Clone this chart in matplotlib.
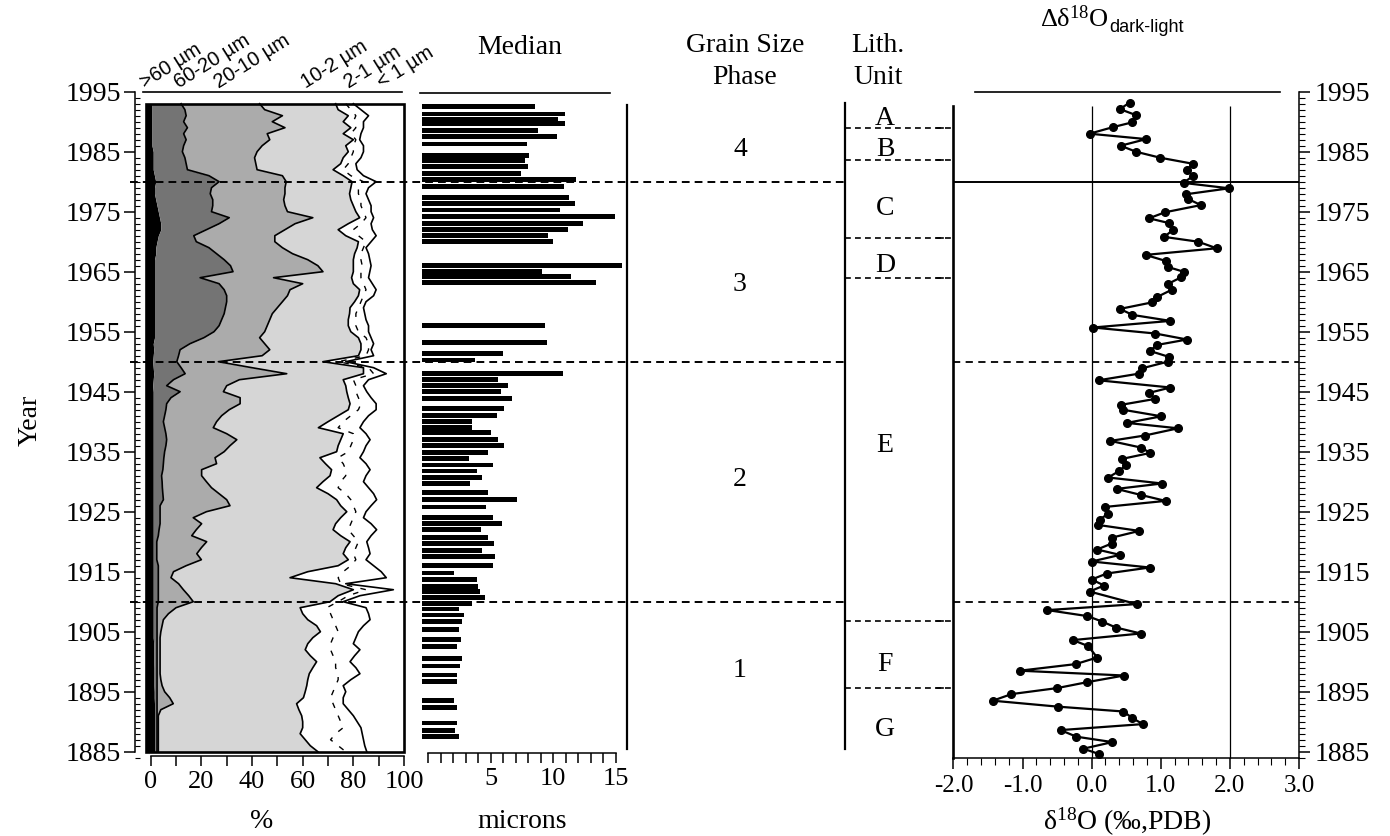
import numpy as np
import matplotlib
matplotlib.use("Agg")
import matplotlib.pyplot as plt
from matplotlib.lines import Line2D
from matplotlib.patches import Rectangle
from matplotlib.ticker import FixedLocator, MultipleLocator, FuncFormatter
from matplotlib.transforms import blended_transform_factory

plt.rcParams['font.family'] = ['Liberation Serif', 'DejaVu Serif']
plt.rcParams['mathtext.fontset'] = 'custom'
plt.rcParams['mathtext.rm'] = 'Liberation Serif'
plt.rcParams['mathtext.it'] = 'Liberation Serif:italic'
plt.rcParams['axes.linewidth'] = 1.1

# ---------------- data ----------------
# grain size classes, cumulative % at the upper edge of each class, 1993 -> 1885
gs_classes = ['>60 µm', '60-20 µm', '20-10 µm', '10-2 µm', '2-1 µm', '< 1 µm']
gs_year = list(range(1993, 1884, -1))
edge_gt60 = [0.5, 0.5, 0.5, 0.5, 0.5, 0.5, 0.5, 0.5, 1.0, 1.0,
             1.0, 1.0, 1.5, 2.0, 1.5, 1.5, 2.0, 2.5, 3.0, 3.5,
             4.0, 4.0, 3.0, 2.5, 2.0, 2.0, 1.5, 1.5, 1.5, 1.5,
             1.5, 1.5, 1.5, 1.5, 1.5, 1.5, 1.5, 1.5, 1.5, 1.5,
             1.0, 1.2, 1.0, 0.8, 1.0, 1.2, 1.0, 0.8, 1.0, 1.0,
             1.0, 1.0, 1.0, 1.0, 1.0, 1.0, 1.0, 1.0, 1.0, 1.0,
             1.0, 1.0, 1.0, 1.0, 1.0, 1.0, 1.0, 1.0, 1.0, 1.0,
             1.0, 1.0, 1.0, 1.0, 1.0, 1.0, 1.0, 1.0, 1.0, 1.0,
             1.0, 1.0, 1.0, 1.0, 1.0, 1.0, 1.0, 1.0, 1.0, 1.0,
             1.2, 1.2, 1.2, 1.2, 1.3, 1.3, 1.3, 1.3, 1.4, 1.4,
             1.5, 1.5, 1.5, 1.5, 1.5, 1.5, 1.5, 1.5, 1.5]
edge_60_20 = [12, 13.5, 14, 13, 14.5, 13, 14, 13, 12.5, 13.5,
              14, 14.5, 23, 27, 24, 23.5, 24.5, 24.5, 24, 31,
              27, 22, 17, 18, 23, 26, 29, 31.5, 32.5, 19.5,
              27, 29, 30, 30, 29.5, 29, 28, 27, 25, 21,
              15.5, 11.6, 11, 10.3, 12, 13.6, 9, 6.3, 11.6, 8,
              6.3, 6, 5.5, 5, 5.5, 6, 6.3, 6, 5.5, 5.2,
              5, 4.8, 4.3, 4.5, 4.6, 4.8, 5, 3.7, 3.7, 3.7,
              3.7, 3.3, 3, 2.4, 2.4, 2.4, 2.4, 3, 3, 3,
              3, 3, 3, 3, 2.5, 2.5, 2.5, 2.5, 2.5, 2.5,
              2.5, 2.5, 2.5, 2.5, 2.5, 2.5, 2.5, 2.5, 2.5, 2.5,
              2.5, 2.5, 2.5, 2.5, 2.5, 2.5, 2.5, 2.5, 2.5]
edge_20_10 = [43, 45, 52, 48, 53, 46, 47, 44, 42, 41,
              41.5, 42, 52, 53.5, 53, 53, 52.5, 53, 54, 64,
              57, 53, 49, 49, 52, 56, 62, 66, 68, 48.5,
              60, 55, 54, 52, 50, 48, 47, 46, 45, 43,
              45, 47, 44, 26.7, 40, 53.7, 35, 30, 28.7, 35.3,
              35.3, 31, 28, 26, 24.7, 30, 34, 31.3, 29, 25.4,
              26, 20.1, 20.1, 22, 24, 27, 30, 31.3, 22, 16.8,
              20.1, 18, 16.2, 22.1, 20, 18.2, 20, 14, 9, 8,
              11, 12.9, 15, 16.8, 10, 7, 5, 4.5, 4, 3.7,
              3.7, 3.7, 3.7, 3.7, 3.7, 3.7, 4, 4.5, 5.5, 7.5,
              8.9, 4, 3, 3, 3, 3, 3, 3, 3]
edge_10_2 = [73, 74, 78, 76, 79, 76, 80, 77, 78, 76,
             75, 72, 76, 79.5, 79, 78.5, 79, 80, 81, 82.5,
             78, 74, 77, 82, 81.5, 80.5, 80, 80, 80, 79.3,
             80, 82.5, 82, 80.5, 78.7, 78.5, 78, 78, 79, 82,
             83, 83, 82, 68, 84, 84, 76, 77, 77.4, 78,
             78.7, 78, 74, 70, 66.2, 76, 75, 74, 73.4, 66.8,
             69, 71.4, 70.8, 68, 65.5, 70, 73.4, 75, 77.4, 75,
             73, 72, 75, 78.7, 77, 76, 78, 74, 62, 55,
             73, 80, 74, 70.8, 59, 60, 62, 65.5, 67, 64,
             62, 61, 63, 65.5, 64, 62.6, 62, 61.6, 61, 60.3,
             57.6, 58.5, 59.6, 60, 60, 59, 61, 63, 66]
edge_2_1 = [77, 79, 81, 80, 81, 79, 81, 80, 80, 79,
            78, 76, 79, 84, 82, 82, 83, 83, 84, 85,
            83, 80, 82, 85, 84, 83, 83, 83.5, 83, 83,
            84, 85, 84, 83, 82, 81, 81, 81, 82, 85,
            86, 86, 85, 74, 86, 88, 80, 81, 81, 82,
            83, 82, 79, 76, 74, 80, 80, 79, 78, 74,
            76, 77, 77, 75, 74, 77, 79, 80, 81, 80,
            79, 78, 80, 82, 81, 80, 81, 79, 76, 74,
            75, 85, 78, 74, 69.5, 71, 72, 73, 74, 72,
            71, 71, 72, 73, 73, 74, 74, 73, 72, 71,
            72, 73, 74, 75, 76, 73, 71, 74, 77]
edge_lt1 = [80, 83, 86, 84, 84, 83, 82.5, 84, 84, 83,
            81, 81.5, 84, 89, 86, 85, 86, 87, 87, 88,
            87, 87.5, 89, 87, 85, 86, 86.5, 87, 86.5, 86,
            87.5, 89, 88, 85, 84, 84.5, 85, 86, 86, 87,
            88, 87, 88, 77, 88, 93, 86, 84, 85.3, 87,
            89, 89, 86, 84, 82.6, 85, 86.6, 85, 84, 82.6,
            85, 86.6, 85, 84, 86, 88, 89.2, 87, 85, 84,
            87, 89.2, 87, 85.3, 86, 86.6, 85, 88, 91, 93,
            77, 95.8, 82.6, 76, 85, 86, 86.6, 84, 82, 81,
            80, 82.6, 80.5, 78.7, 81, 82.6, 79, 76, 77, 76,
            76, 78, 80, 81.5, 83, 83.5, 84, 84.5, 85.3]

# median grain size (microns)
med_year = [1992.6, 1991.3, 1990.4, 1989.7, 1988.5, 1987.5, 1986.3, 1984.4, 1983.5, 1982.5,
            1981.4, 1980.4, 1979.2, 1977.4, 1976.4, 1975.3, 1974.2, 1973.1, 1972.1, 1971.0,
            1970.0, 1966.1, 1965.1, 1964.2, 1963.2, 1956.1, 1953.2, 1951.4, 1950.3, 1948.1,
            1947.0, 1946.0, 1945.0, 1943.9, 1942.2, 1941.1, 1940.0, 1939.0, 1938.2, 1937.1,
            1936.0, 1934.9, 1933.9, 1932.8, 1931.8, 1930.7, 1929.7, 1928.2, 1927.1, 1925.8,
            1924.1, 1923.0, 1922.0, 1920.7, 1919.7, 1918.6, 1917.6, 1916.0, 1914.8, 1913.7,
            1912.6, 1911.7, 1910.7, 1909.7, 1908.8, 1907.8, 1906.7, 1905.4, 1903.7, 1902.5,
            1900.5, 1899.3, 1897.8, 1896.7, 1893.5, 1892.4, 1889.8, 1888.6, 1887.6]
med_um = [8.5, 10.9, 10.4, 10.9, 8.75, 10.3, 7.9, 8.05, 7.75, 8.0,
          7.4, 11.8, 10.85, 11.25, 11.75, 10.55, 14.9, 12.35, 11.2, 9.6,
          10.0, 15.45, 9.1, 11.45, 13.4, 9.3, 9.5, 6.0, 3.75, 10.8,
          5.55, 6.35, 5.85, 6.7, 6.05, 5.5, 3.5, 3.5, 5.05, 5.6,
          6.1, 4.75, 3.3, 5.15, 3.9, 4.3, 3.35, 4.8, 7.1, 4.6,
          5.2, 5.9, 4.2, 4.75, 5.3, 4.3, 5.35, 5.2, 2.1, 3.9,
          3.95, 4.15, 4.55, 3.55, 2.45, 2.85, 2.7, 2.45, 2.6, 2.3,
          2.7, 2.55, 2.3, 2.35, 2.1, 2.35, 2.35, 2.15, 2.5]

# delta 18O dark minus light laminae (permil, PDB)
iso_year = [1993.2, 1992.1, 1991.1, 1989.9, 1989.1, 1988.0, 1987.1, 1986.0, 1985.0, 1984.0,
            1983.0, 1981.9, 1981.0, 1979.8, 1978.9, 1977.9, 1977.1, 1976.1, 1974.9, 1973.9,
            1973.1, 1972.0, 1970.8, 1970.0, 1968.9, 1967.8, 1966.8, 1965.8, 1965.0, 1964.1,
            1963.0, 1962.0, 1960.8, 1959.9, 1958.8, 1957.8, 1956.8, 1955.7, 1954.7, 1953.7,
            1952.8, 1951.8, 1950.8, 1950.0, 1948.9, 1948.0, 1946.9, 1945.7, 1944.8, 1943.8,
            1942.8, 1942.0, 1940.9, 1939.8, 1938.9, 1937.7, 1936.8, 1935.7, 1934.8, 1933.8,
            1932.8, 1931.8, 1930.7, 1929.7, 1928.8, 1927.8, 1926.8, 1925.8, 1924.7, 1923.7,
            1922.8, 1921.8, 1920.7, 1919.7, 1918.7, 1917.8, 1916.7, 1915.7, 1914.7, 1913.7,
            1912.7, 1911.7, 1909.6, 1908.6, 1907.6, 1906.7, 1905.7, 1904.7, 1903.6, 1902.6,
            1900.7, 1899.6, 1898.5, 1897.7, 1896.6, 1895.6, 1894.6, 1893.5, 1892.5, 1891.7,
            1890.6, 1889.6, 1888.6, 1887.5, 1886.6, 1885.5, 1884.6]
iso_value = [0.55, 0.41, 0.64, 0.59, 0.31, -0.03, 0.79, 0.42, 0.64, 0.99,
             1.46, 1.38, 1.47, 1.33, 1.99, 1.36, 1.40, 1.58, 1.06, 0.83,
             1.12, 1.18, 1.05, 1.54, 1.81, 0.78, 1.07, 1.10, 1.33, 1.30,
             1.11, 1.16, 0.95, 0.88, 0.41, 0.59, 1.14, 0.02, 0.92, 1.38,
             0.95, 0.84, 1.12, 1.10, 0.73, 0.68, 0.10, 1.14, 0.83, 0.92,
             0.42, 0.45, 1.01, 0.51, 1.25, 0.77, 0.27, 0.71, 0.85, 0.44,
             0.50, 0.40, 0.24, 1.02, 0.36, 0.71, 1.07, 0.20, 0.24, 0.12,
             0.09, 0.69, 0.30, 0.29, 0.08, 0.41, 0.00, 0.84, 0.22, 0.00,
             0.18, -0.03, 0.65, -0.64, -0.06, 0.15, 0.35, 0.71, -0.27, -0.05,
             0.08, -0.23, -1.04, 0.47, -0.06, -0.50, -1.16, -1.43, -0.48, 0.46,
             0.59, 0.74, -0.45, -0.22, 0.30, -0.12, 0.11]

phase_bounds = [1980, 1950, 1910]
phase_labels = ['4', '3', '2', '1']
phase_label_year = [1985.3, 1962.8, 1930.3, 1898.6]
lith_bounds = [1988.9, 1983.7, 1970.7, 1963.9, 1906.8, 1895.7]
lith_units = ['A', 'B', 'C', 'D', 'E', 'F', 'G']
lith_label_year = [1990.6, 1985.3, 1975.6, 1966.1, 1936.1, 1899.5, 1888.7]
year_ticks = list(range(1885, 1996, 10))

# ---------------- layout helpers (pixel based) ----------------
W, H = 1390, 836
fig = plt.figure(figsize=(W / 100, H / 100), dpi=100)


def fx(px):
    return px / W


def fy(py):
    return 1 - py / H


def ypx(year):
    return 91.7 + 6.0 * (1995 - year)


Y_LO, Y_HI = 1883.5, 1995.0
ax_bot = fy(ypx(Y_LO))
ax_h = fy(ypx(Y_HI)) - ax_bot

# ---------------- grain size classes ----------------
ax = fig.add_axes([fx(146), ax_bot, fx(404) - fx(146), ax_h])
ax.patch.set_visible(False)
x_lo = -1.86
ax.set_xlim(x_lo, 100)
ax.set_ylim(Y_LO, Y_HI)
y = np.array(gs_year)
e = [np.array(v) for v in (edge_gt60, edge_60_20, edge_20_10, edge_10_2, edge_2_1, edge_lt1)]
ax.fill_betweenx(y, x_lo, e[0], color='black', lw=0)
ax.fill_betweenx(y, e[0], e[1], color='#747474', lw=0)
ax.fill_betweenx(y, e[1], e[2], color='#ababab', lw=0)
ax.fill_betweenx(y, e[2], e[3], color='#d6d6d6', lw=0)
for edge in (e[1], e[2], e[3], e[5]):
    ax.plot(edge, y, color='black', lw=1.2)
ax.plot(e[4], y, color='black', lw=1.0, ls=(0, (4, 6)))
ax.add_patch(Rectangle((x_lo, 1885), 100 - x_lo, 1993 - 1885, fill=False,
                       lw=1.9, ec='black', zorder=5, clip_on=False))
for s in ('top', 'right'):
    ax.spines[s].set_visible(False)
ax.spines['left'].set_position(('outward', 8))
ax.spines['left'].set_bounds(1885, 1995)
ax.spines['bottom'].set_position(('data', 1884.28))
ax.spines['bottom'].set_bounds(0, 100)
ax.yaxis.set_major_locator(FixedLocator(year_ticks))
ax.yaxis.set_minor_locator(MultipleLocator(1))
ax.tick_params(axis='y', which='major', direction='out', length=8, width=1.1, labelsize=20, pad=2)
ax.tick_params(axis='y', which='minor', direction='in', length=3.5, width=0.8)
ax.xaxis.set_major_locator(FixedLocator(range(0, 101, 10)))
ax.xaxis.set_major_formatter(FuncFormatter(lambda v, p: f'{int(v)}' if int(v) % 20 == 0 else ''))
ax.tick_params(axis='x', which='major', direction='out', length=7.5, width=1.1, labelsize=19, pad=3)

# rotated class labels above the panel
for lab, lx in zip(gs_classes, [145, 179, 219, 306, 349, 382]):
    fig.text(fx(lx), fy(89), lab, family=['Liberation Sans', 'DejaVu Sans'], fontsize=14.5,
             rotation=32, rotation_mode='anchor', ha='left', va='baseline')
fig.add_artist(Line2D([fx(143), fx(402)], [fy(92), fy(92)], color='black', lw=1.2))

# ---------------- median grain size ----------------
axm = fig.add_axes([fx(422), ax_bot, fx(627) - fx(422), ax_h])
axm.patch.set_visible(False)
m_lo = -0.48
axm.set_xlim(m_lo, 15.88)
axm.set_ylim(Y_LO, Y_HI)
axm.barh(med_year, np.array(med_um) - m_lo, left=m_lo, height=0.8, color='black')
for s in ('top', 'left'):
    axm.spines[s].set_visible(False)
axm.spines['right'].set_bounds(1885.5, 1992.8)
axm.spines['right'].set_linewidth(1.6)
axm.spines['bottom'].set_position(('data', 1884.74))
axm.spines['bottom'].set_bounds(0, 15)
axm.xaxis.set_major_locator(FixedLocator([5, 10, 15]))
axm.xaxis.set_minor_locator(MultipleLocator(1))
axm.tick_params(axis='x', which='both', direction='out', length=7.5, width=1.1, labelsize=19, pad=3)
axm.tick_params(axis='y', which='both', left=False, right=False, labelleft=False)
fig.text(fx(520), fy(47), 'Median', ha='center', va='center', fontsize=20)
fig.add_artist(Line2D([fx(420), fx(610)], [fy(93), fy(93)], color='black', lw=1.2))

# ---------------- oxygen isotopes ----------------
axr = fig.add_axes([fx(953.4), ax_bot, fx(1299) - fx(953.4), ax_h])
axr.patch.set_visible(False)
axr.set_xlim(-2, 3)
axr.set_ylim(Y_LO, Y_HI)
axr.vlines([0, 2], 1883.95, 1992.7, color='black', lw=0.9)
axr.hlines(phase_bounds[0], -2, 3, color='black', lw=1.4)
axr.hlines(phase_bounds[1:], -2, 3, color='black', lw=1.3, ls=(0, (4, 3)))
axr.plot(iso_value, iso_year, color='black', lw=1.6, marker='o', ms=5.5, clip_on=False, zorder=4)
axr.spines['top'].set_visible(False)
axr.spines['left'].set_bounds(1883.95, 1992.7)
axr.spines['left'].set_linewidth(1.9)
axr.spines['right'].set_bounds(1883.95, 1995)
axr.spines['bottom'].set_position(('data', 1883.95))
axr.spines['bottom'].set_bounds(-2, 3)
axr.yaxis.tick_right()
axr.yaxis.set_major_locator(FixedLocator(year_ticks))
axr.yaxis.set_minor_locator(MultipleLocator(1))
axr.tick_params(axis='y', which='major', direction='out', length=8, width=1.1, labelsize=20, pad=3)
axr.tick_params(axis='y', which='minor', direction='out', length=4.5, width=0.8)
axr.xaxis.set_major_locator(FixedLocator([-2, -1, 0, 1, 2, 3]))
axr.xaxis.set_minor_locator(MultipleLocator(0.2))
axr.xaxis.set_major_formatter(FuncFormatter(lambda v, p: f'{v:.1f}'))
axr.tick_params(axis='x', which='major', direction='out', length=8, width=1.1, labelsize=18, pad=4)
axr.tick_params(axis='x', which='minor', direction='out', length=5, width=0.8)
fig.text(fx(1127), fy(822), 'δ$^{18}$O (‰,PDB)', ha='center', va='center', fontsize=20)

# header: delta delta 18O with sans-serif subscript
renderer = fig.canvas.get_renderer()
t1 = fig.text(0, fy(27), 'Δδ$^{18}$O', fontsize=19, ha='left', va='baseline')
t2 = fig.text(0, fy(32), 'dark-light', family=['Liberation Sans', 'DejaVu Sans'],
              fontsize=13, ha='left', va='baseline')
w1 = t1.get_window_extent(renderer).width
w2 = t2.get_window_extent(renderer).width
x_start = 1112 - (w1 + w2) / 2
t1.set_x(fx(x_start))
t2.set_x(fx(x_start + w1))
fig.add_artist(Line2D([fx(975), fx(1280)], [fy(92), fy(92)], color='black', lw=1.2))

# ---------------- phase and lithology columns ----------------
T = blended_transform_factory(fig.transFigure, axr.transData)
for b in phase_bounds:
    fig.add_artist(Line2D([fx(130), fx(845)], [b, b], transform=T, color='black',
                          lw=1.4, ls=(0, (4, 2.6))))
for lab, yr in zip(phase_labels, phase_label_year):
    fig.text(fx(740), yr, lab, transform=T, ha='center', va='center', fontsize=20)
fig.text(fx(745), fy(45), 'Grain Size', ha='center', va='center', fontsize=20)
fig.text(fx(745), fy(78), 'Phase', ha='center', va='center', fontsize=20)

fig.add_artist(Line2D([fx(845), fx(845)], [1885.5, 1993.1], transform=T, color='black', lw=1.6))
for b in lith_bounds:
    fig.add_artist(Line2D([fx(845), fx(953)], [b, b], transform=T, color='black',
                          lw=1.2, ls=(0, (3.5, 2.5))))
    fig.add_artist(Line2D([fx(937), fx(943)], [b, b], transform=T, color='black', lw=1.2))
for lab, yr in zip(lith_units, lith_label_year):
    fig.text(fx(885), yr, lab, transform=T, ha='center', va='center', fontsize=20)
fig.text(fx(878), fy(45), 'Lith.', ha='center', va='center', fontsize=20)
fig.text(fx(878), fy(78), 'Unit', ha='center', va='center', fontsize=20)

# axis titles
fig.text(fx(30), fy(420), 'Year', rotation=90, ha='center', va='center', fontsize=20)
fig.text(fx(262), fy(822), '%', ha='center', va='center', fontsize=20)
fig.text(fx(522), fy(822), 'microns', ha='center', va='center', fontsize=20)

fig.savefig('out.png', dpi=100)
